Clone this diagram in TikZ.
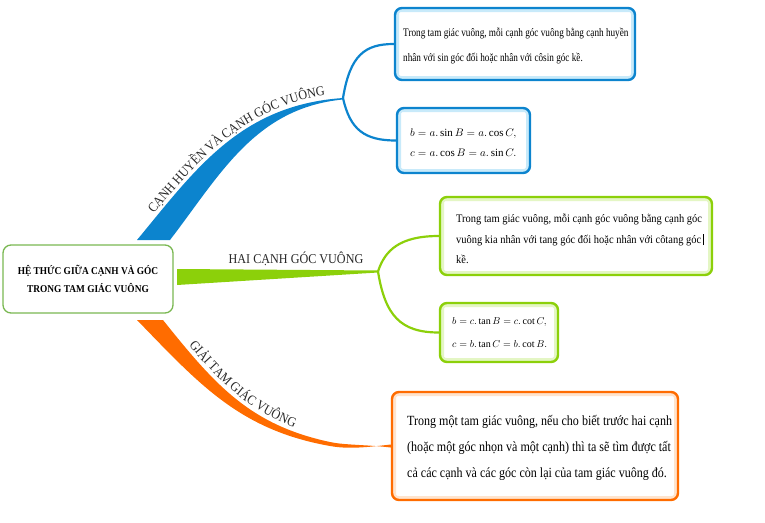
\documentclass[tikz,border=0pt]{standalone}
\usepackage{fontspec}
\setmainfont{Liberation Serif}
\newfontfamily\fontboxA[FakeStretch=0.8]{Liberation Serif}
\newfontfamily\fontboxB[FakeStretch=0.91]{Liberation Serif}
\newfontfamily\fontboxC[FakeStretch=0.86]{Liberation Serif}
\newfontfamily\fontcent[FakeStretch=0.89]{Liberation Serif}
\newfontfamily\fontlbl[FakeStretch=0.9]{Liberation Serif}
\usetikzlibrary{decorations.text}
\definecolor{cblue}{RGB}{12,132,206}
\definecolor{cbluel}{RGB}{200,234,250}
\definecolor{cgreen}{RGB}{140,208,10}
\definecolor{cgreenl}{RGB}{228,246,196}
\definecolor{corange}{RGB}{255,108,0}
\definecolor{corangel}{RGB}{255,228,205}
\definecolor{ccent}{RGB}{122,184,82}
\definecolor{clbl}{RGB}{40,40,40}
\tikzset{
  rbox/.style={rectangle, rounded corners=7pt, line width=2.4pt, fill=white, inner sep=0pt},
  glowband/.style={path picture={\draw[#1, line width=8pt, rounded corners=6pt]
      (path picture bounding box.south west) rectangle (path picture bounding box.north east);}},
  bluebox/.style={rbox, draw=cblue, glowband=cbluel},
  greenbox/.style={rbox, draw=cgreen, glowband=cgreenl},
  orangebox/.style={rbox, draw=corange, glowband=corangel},
  boxtext/.style={anchor=west, align=left, inner sep=0pt, text=black},
  centnode/.style={rectangle, rounded corners=8pt, draw=ccent, line width=1.3pt, fill=white,
      align=center, inner sep=0pt, text=black},
  branchlbl/.style={font=\fontlbl\fontsize{13.5}{16}\selectfont, text=clbl, inner sep=0pt},
  thinlink/.style={line width=2.2pt, line cap=round},
}
\begin{document}
\begin{tikzpicture}[x=1pt,y=-1pt]
\useasboundingbox (0,0) rectangle (765,522);

% central node
\node[centnode, minimum width=170pt, minimum height=68pt,
      font=\fontcent\bfseries\fontsize{10.5}{18}\selectfont] (c) at (88,279)
  {HỆ THỨC GIỮA CẠNH VÀ GÓC\\TRONG TAM GIÁC VUÔNG};

% junction points
\coordinate (jb) at (343,98);
\coordinate (jg) at (378,271.5);

% boxes
\node[bluebox, minimum width=240pt, minimum height=72pt] (b1) at (515,44) {};
\node[bluebox, minimum width=133pt, minimum height=65pt] (b2) at (463.5,140.5) {};
\node[greenbox, minimum width=272pt, minimum height=78pt] (b3) at (576,236) {};
\node[greenbox, minimum width=118pt, minimum height=59pt] (b4) at (499,332.5) {};
\node[orangebox, minimum width=286pt, minimum height=108pt] (b5) at (535,446) {};

% box texts
\node[boxtext, font=\fontboxA\fontsize{11.5}{25}\selectfont] (t1) at (403,46)
  {Trong tam giác vuông, mỗi cạnh góc vuông bằng cạnh huyền\\
   nhân với sin góc đối hoặc nhân với côsin góc kề.};
\node[boxtext, font=\fontsize{11}{20}\selectfont] (t2) at (410,143)
  {$b=a.\sin B=a.\cos C,$\\ $c=a.\cos B=a.\sin C.$};
\node[boxtext, font=\fontboxB\fontsize{11.5}{20.5}\selectfont] (t3) at (456,239)
  {Trong tam giác vuông, mỗi cạnh góc vuông bằng cạnh góc\\
   vuông kia nhân với tang góc đối hoặc nhân với côtang góc\,\rule[-2pt]{0.7pt}{11pt}\\
   kề.};
\node[boxtext, font=\fontsize{10}{23}\selectfont] (t4) at (452,333)
  {$b=c.\tan B=c.\cot C,$\\ $c=b.\tan C=b.\cot B.$};
\node[boxtext, font=\fontboxC\fontsize{14}{26}\selectfont] (t5) at (407,448)
  {Trong một tam giác vuông, nếu cho biết trước hai cạnh\\
   (hoặc một góc nhọn và một cạnh) thì ta sẽ tìm được tất\\
   cả các cạnh và các góc còn lại của tam giác vuông đó.};

% blue branch
\fill[cblue] (137,240) .. controls (195,170) and (240,105) .. (jb)
  -- (343,99.5) .. controls (255,108) and (220,175) .. (170,240) -- cycle;
\draw[cblue, thinlink] (jb) .. controls (350,55) and (365,44) .. (b1.west);
\draw[cblue, thinlink] (jb) .. controls (350,130) and (365,140.5) .. (b2.west);
\path[decorate, decoration={text along path, text color=clbl,
   text={|\fontlbl\fontsize{13.5}{16}\selectfont|CẠNH HUYỀN VÀ CẠNH GÓC VUÔNG},
   text align={left indent=31pt}}]
  (134,237.5) .. controls (192,168) and (240,101.5) .. (343,93.5);

% green branch
\fill[cgreen] (177,269) -- (378,270.5) -- (378,272.5) -- (177,285) -- cycle;
\draw[cgreen, thinlink] (jg) .. controls (385,250) and (400,236) .. (b3.west);
\draw[cgreen, thinlink] (jg) .. controls (385,315) and (400,332.5) .. (b4.west);
\node[branchlbl, anchor=base] (lg) at (296,263) {HAI CẠNH GÓC VUÔNG};

% orange branch
\fill[corange] (163,320) .. controls (215,385) and (250,425) .. (330,442)
  .. controls (345,445.2) and (365,444.5) .. ([yshift=-1.5pt]b5.west)
  -- ([yshift=1.5pt]b5.west)
  .. controls (365,447.5) and (348,449.2) .. (330,446)
  .. controls (240,430) and (200,385) .. (137,320) -- cycle;
\path[decorate, decoration={text along path, text color=clbl,
   text={|\fontlbl\fontsize{13.5}{16}\selectfont|GIẢI TAM GIÁC VUÔNG},
   text align={left indent=36pt}}]
  (166,317.5) .. controls (218.5,382) and (251,421) .. (331,438);
\end{tikzpicture}
\end{document}
